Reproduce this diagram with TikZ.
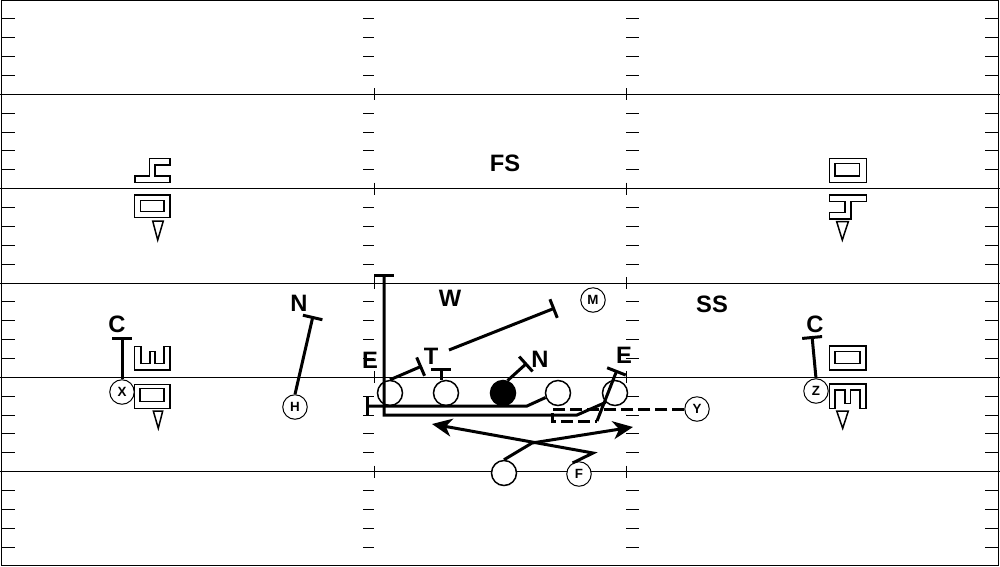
\documentclass[tikz,border=0pt]{standalone}
\usepackage{fontspec}
\setmainfont{Liberation Sans}
\usepackage{tikz}
\usetikzlibrary{
  arrows.meta
}

\begin{document}
\begin{tikzpicture}[%詳細設定
        x=0.2mm,y=-0.2mm,
        field/.style={
            line width=0.2mm
          },player/.style={
            circle,draw,fill=white,
            line width=0.3mm,
            minimum size=5mm,
            inner sep=0pt
          },skill/.style={
            circle,draw,fill=white,
            line width=0.2mm,
            minimum size=4.9mm,
            inner sep=0pt,
            font=\fontsize{7.6}{9}\selectfont\bfseries
          },defender/.style={
            inner sep=0pt,
            font=\fontsize{13.5}{16}\selectfont\bfseries
          },block/.style={
            line width=0.6mm,
            -{Bar[width=4mm]}
          },route/.style={
            line width=0.6mm,
            -{Stealth[length=4mm,width=3.6mm,inset=1.2mm]}
          },motion/.style={
            line width=0.6mm,
            dash pattern=on 2.4mm off 1mm
          },stance/.style={
            line width=0.3mm
          }
      ]

      % 外枠
      \useasboundingbox (0,0) rectangle (1000,566);
      \draw[field] (1,0.7) rectangle (998.7,565.3);

      % ヤードライン
      \foreach \k in {1,...,5} {
          \draw[field] (0,\k*94.333) -- (1000,\k*94.333);
          \draw[field] (374,\k*94.333-6) -- (374,\k*94.333+6);
          \draw[field] (626,\k*94.333-6) -- (626,\k*94.333+6);
        }
      % ハッシュマーク
      \foreach \f in {0,...,5} {
          \foreach \j in {1,...,4} {
              \draw[field] (2,\f*94.333+\j*18.867) -- (15,\f*94.333+\j*18.867);
              \draw[field] (363,\f*94.333+\j*18.867) -- (374,\f*94.333+\j*18.867);
              \draw[field] (626,\f*94.333+\j*18.867) -- (639,\f*94.333+\j*18.867);
              \draw[field] (985,\f*94.333+\j*18.867) -- (998,\f*94.333+\j*18.867);
            }
        }

      % 左の記号
      \draw[stance] (149.3,158.3) -- (170,158.3) -- (170,165) -- (155,165) -- (155,176)
      -- (170,176) -- (170,182.3) -- (135,182.3) -- (135,176) -- (149.3,176) -- cycle;
      \draw[stance] (134.3,195) rectangle (170,217.3);
      \draw[stance] (140.7,200.7) rectangle (164,211.7);
      \draw[stance] (152.7,221) -- (163.3,221) -- (157.7,240) -- cycle;
      \draw[stance] (134.3,346.7) -- (134.3,370) -- (170,370) -- (170,346.7) -- (164,346.7)
      -- (164,363.3) -- (155,363.3) -- (155,351.7) -- (150,351.7) -- (150,363.3)
      -- (141,363.3) -- (141,346.7) -- cycle;
      \draw[stance] (134.3,384.3) rectangle (170,408.3);
      \draw[stance] (140,388.3) rectangle (164,401.7);
      \draw[stance] (153.3,411) -- (162.7,411) -- (158.3,428.3) -- cycle;

      % 右の記号
      \draw[stance] (829.3,158.3) rectangle (866.7,182.3);
      \draw[stance] (835,163.3) rectangle (859.3,176);
      \draw[stance] (829.3,195) -- (866.7,195) -- (866.7,201.7) -- (851,201.7) -- (851,219)
      -- (829.3,219) -- (829.3,212.7) -- (845,212.7) -- (845,201.7) -- (829.3,201.7) -- cycle;
      \draw[stance] (836.7,221.7) -- (848.3,221.7) -- (842.3,240) -- cycle;
      \draw[stance] (829.3,346) rectangle (866,370);
      \draw[stance] (835,351.7) rectangle (860,363.3);
      \draw[stance] (829.3,384) -- (866,384) -- (866,408.3) -- (860,408.3) -- (860,390)
      -- (850.7,390) -- (850.7,403.3) -- (845,403.3) -- (845,390) -- (835,390)
      -- (835,408.3) -- (829.3,408.3) -- cycle;
      \draw[stance] (836.7,411) -- (848.3,411) -- (842.7,428.3) -- cycle;

      % 守備
      \node[defender] (fs) at (505,163) {FS};
      \node[defender] (w) at (450,298) {W};
      \node[defender] (ss) at (712,304) {SS};
      \node[defender] (n_left) at (299,303) {N};
      \node[defender] (c_left) at (117,324) {C};
      \node[defender] (c_right) at (815,324) {C};
      \node[defender] (e_left) at (370,360) {E};
      \node[defender] (t) at (431,356) {T};
      \node[defender] (n) at (540,359) {N};
      \node[defender] (e_right) at (624,355) {E};

      % 座標の定義
      \coordinate (x_blk) at (122,337);
      \coordinate (h_blk) at (313,316);
      \coordinate (z_blk) at (812,336);
      \coordinate (lt_blk) at (422,366);
      \coordinate (lg_blk) at (441,368);
      \coordinate (ctr_blk) at (527,363);
      \coordinate (rg_turn) at (527,406);
      \coordinate (rg_blk) at (366,406);
      \coordinate (rt_turn1) at (577,415);
      \coordinate (rt_turn2) at (384,415);
      \coordinate (rt_blk) at (384,274);
      \coordinate (m_start) at (449,350);
      \coordinate (m_blk) at (555,308);
      \coordinate (y_turn1) at (552,409);
      \coordinate (y_turn2) at (552,421);
      \coordinate (y_turn3) at (597,421);
      \coordinate (y_blk) at (617,370);
      \coordinate (f_turn) at (593,453);
      \coordinate (f_end) at (432,424);
      \coordinate (tb_turn) at (532,443);
      \coordinate (tb_end) at (633,427);

      % 攻撃
      \node[player] (lt) at (390,393) {};
      \node[player] (lg) at (446,393) {};
      \node[player,fill=black] (ctr) at (503,393) {};
      \node[player] (rg) at (558,393) {};
      \node[player] (rt) at (615,393) {};
      \node[player] (tb) at (504,473) {};
      \node[skill] (x) at (122,392) {X};
      \node[skill] (h) at (295,407) {H};
      \node[skill] (m) at (593,300) {M};
      \node[skill] (y) at (697,409) {Y};
      \node[skill] (z) at (816,391) {Z};
      \node[skill] (f) at (579,474) {F};

      % ブロック
      \draw[block] (x.north) -- (x_blk);
      \draw[block] (h.north) -- (h_blk);
      \draw[block] (z.north) -- (z_blk);
      \draw[block] (lt.north) -- (lt_blk);
      \draw[block] (lg.north -| lg_blk) -- (lg_blk);
      \draw[block] (ctr.70) -- (ctr_blk);
      \draw[block] (rg.200) -- (rg_turn) -- (rg_blk);
      \draw[block] (rt.225) -- (rt_turn1) -- (rt_turn2) -- (rt_blk);
      \draw[block] (m_start) -- (m_blk);

      % モーション
      \draw[motion] (y.west) -- (y_turn1) -- (y_turn2) -- (y_turn3);
      \draw[block] (y_turn3) -- (y_blk);

      % ボールキャリア
      \draw[route] (f.120) -- (f_turn) -- (f_end);
      \draw[route] (tb.north) -- (tb_turn) -- (tb_end);

    \end{tikzpicture}
\end{document}
